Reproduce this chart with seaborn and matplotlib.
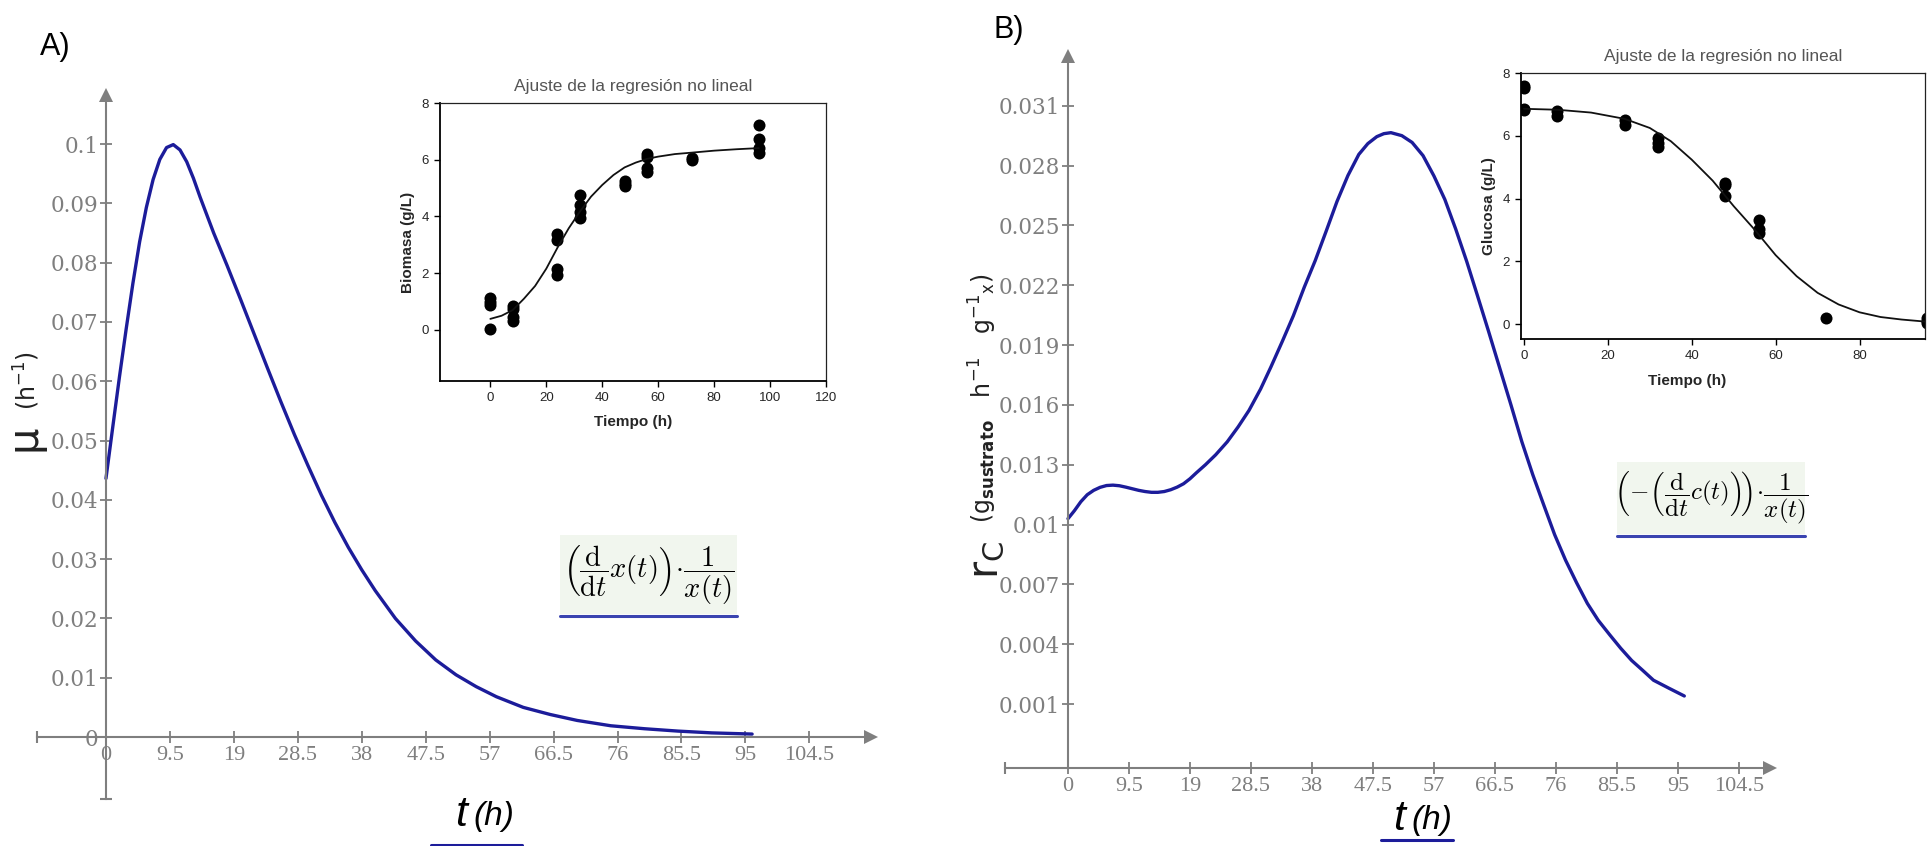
import matplotlib
matplotlib.use("Agg")
import matplotlib.pyplot as plt
from matplotlib.lines import Line2D
from matplotlib.patches import Rectangle
import seaborn as sns

# ---------------- data ----------------
# Panel A: specific growth rate mu(t)
t_mu = [0, 1, 2, 3, 4, 5, 6, 7, 8, 9, 10, 11, 12, 13, 14, 15, 16, 18, 20, 22, 24, 26,
        28, 30, 32, 34, 36, 38, 40, 43, 46, 49, 52, 55, 58, 62, 66, 70, 75, 80, 85, 90, 96]
mu = [0.0436, 0.0522, 0.0607, 0.0688, 0.0765, 0.0835, 0.0893, 0.094, 0.0974, 0.0994,
      0.0999, 0.099, 0.097, 0.0942, 0.091, 0.088, 0.085, 0.0795, 0.0738, 0.068, 0.0622,
      0.0565, 0.051, 0.0458, 0.0408, 0.0362, 0.032, 0.0282, 0.0247, 0.02, 0.0162,
      0.013, 0.0105, 0.0085, 0.0068, 0.005, 0.0038, 0.0028, 0.0019, 0.0014, 0.001,
      0.0007, 0.0005]

# Panel B: specific substrate consumption rate rC(t)
t_rc = [0, 1, 2, 3, 4, 5, 6, 7, 8, 9, 10, 11, 12, 13, 14, 15, 16, 17, 18, 19, 20, 21.4,
        23, 24.8, 26.5, 28.2, 30, 31.6, 33.4, 35.1, 36.8, 38.5, 40.2, 41.9, 43.6, 45.3,
        46.7, 48.1, 49.2, 50.3, 52, 53.6, 55.3, 57.0, 58.7, 60.4, 62.1, 63.8, 65.5, 67.2,
        69, 70.7, 72.4, 74.1, 75.8, 77.5, 79.2, 80.9, 82.6, 84.4, 86.1, 87.8, 89.5, 91.2,
        93.6, 96]
rc = [0.0103, 0.0107, 0.01115, 0.0115, 0.01172, 0.01187, 0.01196, 0.01198, 0.01195,
      0.01188, 0.0118, 0.01172, 0.01166, 0.01162, 0.01162, 0.01166, 0.01175, 0.01188,
      0.01205, 0.0123, 0.0126, 0.013, 0.0135, 0.01415, 0.0149, 0.01573, 0.0168, 0.0179,
      0.0192, 0.02047, 0.0219, 0.02323, 0.0247, 0.0262, 0.0275, 0.02856, 0.0291,
      0.02945, 0.0296, 0.02965, 0.0295, 0.02916, 0.0285, 0.02748, 0.0263, 0.02481,
      0.0232, 0.02146, 0.0197, 0.0179, 0.016, 0.01415, 0.0125, 0.01099, 0.0095,
      0.00822, 0.0071, 0.00605, 0.0052, 0.00447, 0.0038, 0.00319, 0.0027, 0.0022,
      0.0018, 0.00141]

main_xticks = [0, 9.5, 19, 28.5, 38, 47.5, 57, 66.5, 76, 85.5, 95, 104.5]
main_xticklabels = ["0", "9.5", "19", "28.5", "38", "47.5", "57", "66.5", "76",
                    "85.5", "95", "104.5"]
a_yticks = [0, 0.01, 0.02, 0.03, 0.04, 0.05, 0.06, 0.07, 0.08, 0.09, 0.1]
a_yticklabels = ["0", "0.01", "0.02", "0.03", "0.04", "0.05", "0.06", "0.07",
                 "0.08", "0.09", "0.1"]
b_yticks = [0.001, 0.004, 0.007, 0.010, 0.013, 0.016, 0.019, 0.022, 0.025, 0.028, 0.031]
b_yticklabels = ["0.001", "0.004", "0.007", "0.01", "0.013", "0.016", "0.019",
                 "0.022", "0.025", "0.028", "0.031"]

# Inset A: biomass
bio_t = [0, 0, 0, 0, 8, 8, 8, 8, 24, 24, 24, 24, 32, 32, 32, 32, 48, 48, 48,
         56, 56, 56, 56, 72, 72, 96, 96, 96, 96]
bio = [0.03, 0.88, 1.0, 1.12, 0.33, 0.45, 0.74, 0.86, 1.92, 2.16, 3.16, 3.37,
       3.95, 4.17, 4.4, 4.75, 5.07, 5.15, 5.25, 5.58, 5.7, 6.09, 6.2, 6.0, 6.05,
       6.25, 6.4, 6.74, 7.23]
bio_fit_t = [0, 4, 8, 12, 16, 20, 24, 28, 32, 36, 40, 44, 48, 52, 56, 60, 66, 72, 80, 88, 96]
bio_fit = [0.39, 0.5, 0.7, 1.1, 1.55, 2.16, 2.9, 3.58, 4.17, 4.7, 5.11, 5.46, 5.73,
           5.9, 6.03, 6.11, 6.2, 6.25, 6.32, 6.37, 6.41]

# Inset B: glucose
glu_t = [0, 0, 0, 0, 8, 8, 24, 24, 32, 32, 32, 48, 48, 48, 56, 56, 56, 72, 96, 96, 96]
glu = [7.52, 7.58, 6.86, 6.83, 6.78, 6.64, 6.51, 6.36, 5.93, 5.77, 5.64, 4.5, 4.42,
       4.07, 3.33, 3.03, 2.89, 0.2, 0.2, 0.1, 0.04]
glu_fit_t = [0, 8, 16, 24, 30, 35, 40, 45, 50, 55, 60, 65, 70, 75, 80, 85, 90, 96]
glu_fit = [6.86, 6.83, 6.74, 6.54, 6.25, 5.83, 5.24, 4.57, 3.76, 3.01, 2.2, 1.53,
           1.0, 0.63, 0.38, 0.23, 0.15, 0.08]

# ---------------- style ----------------
sns.set_theme(style="white")
plt.rcParams["font.family"] = ["Liberation Sans", "DejaVu Sans"]
plt.rcParams["mathtext.fontset"] = "cm"

W, H = 1927, 846
fig = plt.figure(figsize=(W / 100, H / 100), dpi=100)
fig.patch.set_facecolor("white")


def rect(l, t, r, b):
    return [l / W, 1 - b / H, (r - l) / W, (b - t) / H]


def fx(x):
    return x / W


def fy(y):
    return 1 - y / H


GRAY = "#7f7f7f"
BLUE = "#1c1c9a"
LABEL = "#222222"


def style_main(ax, xaxis_y, xleft, xright, xarrow, ybottom, ytop_line, ytop_arrow,
               yticks, yticklabels):
    ax.patch.set_alpha(0)
    for s in ["top", "right"]:
        ax.spines[s].set_visible(False)
    ax.spines["left"].set_position(("data", 0))
    ax.spines["bottom"].set_position(("data", xaxis_y))
    ax.spines["left"].set_bounds(ybottom, ytop_line)
    ax.spines["bottom"].set_bounds(xleft, xright)
    for s in ["left", "bottom"]:
        ax.spines[s].set_color(GRAY)
        ax.spines[s].set_linewidth(1.5)
    ax.plot([0], [ytop_arrow], marker="^", ms=10, color=GRAY, clip_on=False, mew=0)
    ax.plot([xarrow], [xaxis_y], marker=">", ms=10, color=GRAY, clip_on=False, mew=0)
    ax.plot([xleft], [xaxis_y], marker="|", ms=9, mew=1.5, color=GRAY, clip_on=False)
    ax.set_xticks(main_xticks)
    ax.set_xticklabels(main_xticklabels, fontfamily="Liberation Serif", fontsize=16,
                       color=GRAY)
    ax.set_yticks(yticks)
    ax.set_yticklabels(yticklabels, fontfamily="DejaVu Serif", fontsize=15.5,
                       color=GRAY)
    ax.tick_params(axis="both", which="both", direction="inout", length=9, width=1.3,
                   color=GRAY, bottom=True, left=True)
    ax.tick_params(axis="x", pad=2)
    ax.tick_params(axis="y", pad=1)
    ax.set_xlabel("")
    ax.set_ylabel("")


# ---------------- Panel A ----------------
axA = fig.add_axes(rect(35.3, 84.7, 880, 799.3))
axA.set_xlim(-10.5, 115)
axA.set_ylim(-0.0105, 0.11)
sns.lineplot(x=t_mu, y=mu, ax=axA, color=BLUE, lw=2.4)
style_main(axA, 0, -10.3, 112.5, 113.6, -0.0105, 0.1075, 0.1083,
           a_yticks, a_yticklabels)
axA.plot([0], [-0.0105], marker="_", ms=9, mew=1.5, color=GRAY, clip_on=False)

# ---------------- Panel B ----------------
axB = fig.add_axes(rect(1003.8, 41.9, 1777.4, 768))
axB.set_xlim(-10, 110.5)
axB.set_ylim(-0.0022, 0.0342)
sns.lineplot(x=t_rc, y=rc, ax=axB, color=BLUE, lw=2.4)
style_main(axB, -0.0022, -9.8, 108.3, 109.3, -0.0022, 0.0333, 0.0335,
           b_yticks, b_yticklabels)

# ---------------- Axis titles ----------------
SANS = ["DejaVu Sans"]


def vtext(x, y, s, size, weight="normal"):
    fig.text(fx(x), fy(y), s, fontsize=size, rotation=90, ha="center", va="center",
             color=LABEL, family=SANS, fontweight=weight, math_fontfamily="dejavusans")


vtext(24, 438, "μ", 30)
vtext(27, 381, r"(h$^{-1}$)", 17)

vtext(986, 560, r"r$_{\mathrm{C}}$", 30)
vtext(983, 398,
      r"(g$_{\mathbf{sustrato}}$$\ \ $ h$^{-1}$$\ \ $ g$^{-1}{}_{\mathrm{x}}$)", 17)

for (xr, yb, ul) in [(467, 826, (431, 522, 845)), (1405, 830, (1381, 1453, 840))]:
    fig.text(fx(xr), fy(yb), "t", fontsize=31, style="italic", ha="right",
             va="baseline", color="black")
    fig.text(fx(xr + 6), fy(yb - 1), "(h)", fontsize=24, style="italic", ha="left",
             va="baseline", color="black")
    fig.add_artist(Line2D([fx(ul[0]), fx(ul[1])], [fy(ul[2]), fy(ul[2])],
                          color=BLUE, lw=2.2))

fig.text(fx(40), fy(55), "A)", fontsize=22, ha="left", va="baseline", color="black")
fig.text(fx(993), fy(38), "B)", fontsize=22, ha="left", va="baseline", color="black")

# ---------------- Formula boxes ----------------
FBG = "#f1f6ee"
for (l, t, r, b, expr, fs) in [
    (560, 535, 737, 614,
     r"$\left(\dfrac{\mathrm{d}}{\mathrm{d}t}x(t)\right)\!\cdot\!\dfrac{1}{x(t)}$", 20.5),
    (1617, 462, 1805, 534,
     r"$\left(\!-\!\left(\dfrac{\mathrm{d}}{\mathrm{d}t}c(t)\right)\!\right)\!\cdot\!\dfrac{1}{x(t)}$",
     18),
]:
    fig.add_artist(Rectangle((fx(l), fy(b)), fx(r) - fx(l), fy(t) - fy(b),
                             transform=fig.transFigure, facecolor=FBG, edgecolor="none"))
    fig.text(fx((l + r) / 2), fy((t + b) / 2), expr, fontsize=fs, ha="center",
             va="center", color="black")
    fig.add_artist(Line2D([fx(l), fx(r)], [fy(b + 2), fy(b + 2)], color="#3a44b0", lw=2.2))


# ---------------- Insets ----------------
def style_inset(ax, xlabel, ylabel, xticks, yticks):
    ax.set_title("Ajuste de la regresión no lineal", fontsize=12.5, color="#555555",
                 pad=9)
    ax.set_xlabel(xlabel, fontsize=11, fontweight="bold", labelpad=8)
    ax.set_ylabel(ylabel, fontsize=11, fontweight="bold", labelpad=5)
    ax.set_xticks(xticks)
    ax.set_yticks(yticks)
    ax.tick_params(axis="both", direction="out", length=4, width=1, color="black",
                   labelsize=9.5, pad=4, bottom=True, left=True)
    for s in ["left", "bottom"]:
        ax.spines[s].set_color("black")
        ax.spines[s].set_linewidth(1.3)
    for s in ["top", "right"]:
        ax.spines[s].set_color("#222222")
        ax.spines[s].set_linewidth(0.9)


insA = fig.add_axes(rect(440, 103, 826, 381))
sns.lineplot(x=bio_fit_t, y=bio_fit, ax=insA, color="#111111", lw=1.3)
sns.scatterplot(x=bio_t, y=bio, ax=insA, color="black", s=75, edgecolor="black",
                linewidth=0)
insA.set_xlim(-18, 120)
insA.set_ylim(-1.8, 8)
style_inset(insA, "Tiempo (h)", "Biomasa (g/L)", [0, 20, 40, 60, 80, 100, 120],
            [0, 2, 4, 6, 8])

insB = fig.add_axes(rect(1521, 73, 1925, 339))
sns.lineplot(x=glu_fit_t, y=glu_fit, ax=insB, color="#111111", lw=1.3)
sns.scatterplot(x=glu_t, y=glu, ax=insB, color="black", s=75, edgecolor="black",
                linewidth=0)
insB.set_xlim(-0.7, 95.6)
insB.set_ylim(-0.47, 8)
style_inset(insB, "Tiempo (h)", "Glucosa (g/L)", [0, 20, 40, 60, 80], [0, 2, 4, 6, 8])
insB.xaxis.set_label_coords(0.41, -0.13)

fig.savefig("out.png", dpi=100, facecolor="white")
